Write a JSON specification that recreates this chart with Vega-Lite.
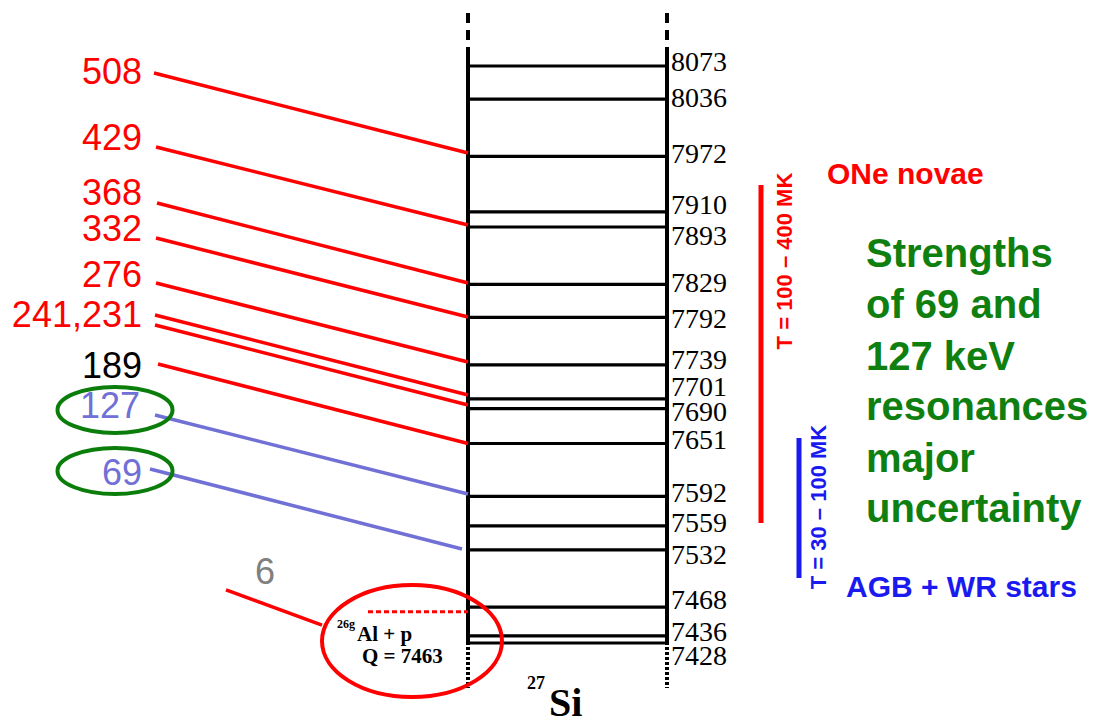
{
  "$schema": "https://vega.github.io/schema/vega-lite/v6.json",
  "width": 1104,
  "height": 717,
  "autosize": {"type": "none"},
  "padding": 0,
  "background": "white",
  "config": {"view": {"stroke": null}},
  "datasets": {
    "levels": [
      {"E": 8073, "labelE": 8076.4}, {"E": 8036, "labelE": 8036.1}, {"E": 7972, "labelE": 7973.5},
      {"E": 7910, "labelE": 7916.5}, {"E": 7893, "labelE": 7881.9}, {"E": 7829, "labelE": 7829.3},
      {"E": 7792, "labelE": 7789.1}, {"E": 7739, "labelE": 7743.2}, {"E": 7701, "labelE": 7713.1},
      {"E": 7690, "labelE": 7685.1}, {"E": 7651, "labelE": 7653.8}, {"E": 7592, "labelE": 7594.6},
      {"E": 7559, "labelE": 7561.0}, {"E": 7532, "labelE": 7525.3}, {"E": 7468, "labelE": 7474.9},
      {"E": 7436, "labelE": 7439.2}, {"E": 7428, "labelE": 7412.4}
    ],
    "frame": [
      {"x": 468, "top": 8094.2, "bottom": 7425.8, "seg": "solid"},
      {"x": 667, "top": 8094.2, "bottom": 7425.8, "seg": "solid"},
      {"x": 468, "top": 8132.3, "bottom": 8098.7, "seg": "upper"},
      {"x": 667, "top": 8132.3, "bottom": 8098.7, "seg": "upper"},
      {"x": 468, "top": 7423.5, "bottom": 7377.7, "seg": "lower"},
      {"x": 667, "top": 7423.5, "bottom": 7377.7, "seg": "lower"}
    ],
    "transitions": [
      {"Er": "508", "x0": 154, "e0": 8065.2, "x1": 468, "e1": 7975.7, "band": "novae"},
      {"Er": "429", "x0": 156, "e0": 7982.5, "x1": 468, "e1": 7895.3, "band": "novae"},
      {"Er": "368", "x0": 157, "e0": 7919.9, "x1": 468, "e1": 7830.4, "band": "novae"},
      {"Er": "332", "x0": 156, "e0": 7880.7, "x1": 468, "e1": 7792.4, "band": "novae"},
      {"Er": "276", "x0": 156, "e0": 7830.4, "x1": 468, "e1": 7742.1, "band": "novae"},
      {"Er": "241", "x0": 155, "e0": 7794.7, "x1": 468, "e1": 7705.2, "band": "novae"},
      {"Er": "231", "x0": 155, "e0": 7783.5, "x1": 468, "e1": 7694.0, "band": "novae"},
      {"Er": "189", "x0": 158, "e0": 7739.9, "x1": 468, "e1": 7651.0, "band": "novae"},
      {"Er": "127", "x0": 155, "e0": 7682.9, "x1": 468, "e1": 7594.6, "band": "agb"},
      {"Er": "69", "x0": 150, "e0": 7622.5, "x1": 462, "e1": 7533.1, "band": "agb"},
      {"Er": "6", "x0": 226, "e0": 7487.3, "x1": 322, "e1": 7448.1, "band": "novae"}
    ],
    "resLabels": [
      {"t": "508", "x": 142, "e": 8065.2, "band": "novae"},
      {"t": "429", "x": 142, "e": 7991.4, "band": "novae"},
      {"t": "368", "x": 142, "e": 7929.9, "band": "novae"},
      {"t": "332", "x": 142, "e": 7889.7, "band": "novae"},
      {"t": "276", "x": 142, "e": 7838.3, "band": "novae"},
      {"t": "241,231", "x": 142, "e": 7793.5, "band": "novae"},
      {"t": "189", "x": 142, "e": 7736.5, "band": "edge"},
      {"t": "127", "x": 140, "e": 7691.8, "band": "agb"},
      {"t": "69", "x": 142, "e": 7616.9, "band": "agb"},
      {"t": "6", "x": 275, "e": 7506.2, "band": "sub"}
    ],
    "circled": [{"x": 115, "e": 7688.5}, {"x": 115, "e": 7620.3}],
    "threshold": [{"x": 412, "e": 7430.2, "Q": 7463}],
    "ranges": [
      {"x": 761, "e0": 7940.0, "e1": 7562.1, "band": "novae", "t": "T = 100 – 400 MK", "tx": 785, "te": 7855.0},
      {"x": 799, "e0": 7657.2, "e1": 7500.7, "band": "stars", "t": "T = 30 – 100 MK", "tx": 819, "te": 7580.0}
    ],
    "sites": [
      {"t": "ONe novae", "x": 827, "e": 7951.2, "band": "novae"},
      {"t": "AGB + WR stars", "x": 846, "e": 7489.5, "band": "stars"}
    ],
    "note": [
      {"t": "Strengths", "e": 7848.3},
      {"t": "of 69 and", "e": 7791.3},
      {"t": "127 keV", "e": 7733.2},
      {"t": "resonances", "e": 7677.3},
      {"t": "major", "e": 7619.2},
      {"t": "uncertainty", "e": 7563.3}
    ]
  },
  "layer": [
    {
      "data": {"name": "frame"},
      "mark": {"type": "rule", "color": "black", "strokeWidth": 4},
      "encoding": {
        "x": {"field": "x", "type": "quantitative", "scale": {"domain": [0, 1104], "nice": false, "zero": false}, "axis": null},
        "y": {"field": "top", "type": "quantitative", "scale": {"domain": [7345.28, 8146.78], "nice": false, "zero": false}, "axis": null},
        "y2": {"field": "bottom"},
        "strokeDash": {"field": "seg", "type": "nominal", "scale": {"domain": ["solid", "upper", "lower"], "range": [[1, 0], [10, 7], [3, 2]]}, "legend": null}
      }
    },
    {
      "data": {"name": "levels"},
      "mark": {"type": "rule", "color": "black", "strokeWidth": 3.2},
      "encoding": {
        "x": {"datum": 468, "type": "quantitative"},
        "x2": {"datum": 667},
        "y": {"field": "E", "type": "quantitative"}
      }
    },
    {
      "data": {"name": "levels"},
      "mark": {"type": "text", "font": "Liberation Serif", "fontSize": 28, "align": "left", "baseline": "middle", "color": "black"},
      "encoding": {
        "x": {"datum": 671, "type": "quantitative"},
        "y": {"field": "labelE", "type": "quantitative"},
        "text": {"field": "E", "type": "nominal"}
      }
    },
    {
      "data": {"name": "transitions"},
      "mark": {"type": "rule", "strokeWidth": 3.5},
      "encoding": {
        "x": {"field": "x0", "type": "quantitative"},
        "x2": {"field": "x1"},
        "y": {"field": "e0", "type": "quantitative"},
        "y2": {"field": "e1"},
        "color": {"field": "band", "type": "nominal", "scale": {"domain": ["novae", "edge", "agb", "sub", "stars"], "range": ["#ff0000", "#000000", "#7070d6", "#808080", "#1a1af0"]}, "legend": null}
      }
    },
    {
      "data": {"name": "resLabels"},
      "mark": {"type": "text", "font": "Liberation Sans", "fontSize": 36, "align": "right", "baseline": "middle"},
      "encoding": {
        "x": {"field": "x", "type": "quantitative"},
        "y": {"field": "e", "type": "quantitative"},
        "text": {"field": "t", "type": "nominal"},
        "color": {"field": "band", "type": "nominal", "legend": null}
      }
    },
    {
      "data": {"name": "circled"},
      "mark": {"type": "point", "filled": false, "stroke": "#0b7d0b", "strokeWidth": 4, "opacity": 1, "size": 13225,
        "shape": "M1,0C1,0.2209,0.5523,0.4,0,0.4C-0.5523,0.4,-1,0.2209,-1,0C-1,-0.2209,-0.5523,-0.4,0,-0.4C0.5523,-0.4,1,-0.2209,1,0Z"},
      "encoding": {
        "x": {"field": "x", "type": "quantitative"},
        "y": {"field": "e", "type": "quantitative"}
      }
    },
    {
      "data": {"name": "threshold"},
      "mark": {"type": "rule", "color": "#ff0000", "strokeWidth": 3, "strokeDash": [5, 3]},
      "encoding": {
        "x": {"datum": 368, "type": "quantitative"},
        "x2": {"datum": 468},
        "y": {"field": "Q", "type": "quantitative"}
      }
    },
    {
      "data": {"name": "threshold"},
      "mark": {"type": "point", "filled": false, "stroke": "#ff0000", "strokeWidth": 4, "opacity": 1, "size": 32400,
        "shape": "M1,0C1,0.3435,0.5523,0.622,0,0.622C-0.5523,0.622,-1,0.3435,-1,0C-1,-0.3435,-0.5523,-0.622,0,-0.622C0.5523,-0.622,1,-0.3435,1,0Z"},
      "encoding": {
        "x": {"field": "x", "type": "quantitative"},
        "y": {"field": "e", "type": "quantitative"}
      }
    },
    {
      "data": {"values": [{"t": "26g", "x": 337, "e": 7449.2}]},
      "mark": {"type": "text", "font": "Liberation Serif", "fontWeight": "bold", "fontSize": 12, "align": "left", "baseline": "middle", "color": "black"},
      "encoding": {
        "x": {"field": "x", "type": "quantitative"},
        "y": {"field": "e", "type": "quantitative"},
        "text": {"field": "t", "type": "nominal"}
      }
    },
    {
      "data": {"values": [{"t": "Al + p", "x": 357, "e": 7437.0}, {"t": "Q = 7463", "x": 362, "e": 7412.9}]},
      "mark": {"type": "text", "font": "Liberation Serif", "fontWeight": "bold", "fontSize": 21, "align": "left", "baseline": "middle", "color": "black"},
      "encoding": {
        "x": {"field": "x", "type": "quantitative"},
        "y": {"field": "e", "type": "quantitative"},
        "text": {"field": "t", "type": "nominal"}
      }
    },
    {
      "data": {"values": [{"t": "27", "x": 527, "e": 7382.2}]},
      "mark": {"type": "text", "font": "Liberation Serif", "fontWeight": "bold", "fontSize": 18, "align": "left", "baseline": "middle", "color": "black"},
      "encoding": {
        "x": {"field": "x", "type": "quantitative"},
        "y": {"field": "e", "type": "quantitative"},
        "text": {"field": "t", "type": "nominal"}
      }
    },
    {
      "data": {"values": [{"t": "Si", "x": 549, "e": 7346.4}]},
      "mark": {"type": "text", "font": "Liberation Serif", "fontWeight": "bold", "fontSize": 40, "align": "left", "baseline": "alphabetic", "color": "black"},
      "encoding": {
        "x": {"field": "x", "type": "quantitative"},
        "y": {"field": "e", "type": "quantitative"},
        "text": {"field": "t", "type": "nominal"}
      }
    },
    {
      "data": {"name": "ranges"},
      "mark": {"type": "rule", "strokeWidth": 5},
      "encoding": {
        "x": {"field": "x", "type": "quantitative"},
        "y": {"field": "e0", "type": "quantitative"},
        "y2": {"field": "e1"},
        "color": {"field": "band", "type": "nominal", "legend": null}
      }
    },
    {
      "data": {"name": "ranges"},
      "mark": {"type": "text", "font": "Liberation Sans", "fontWeight": "bold", "fontSize": 22, "angle": 270, "align": "center", "baseline": "middle"},
      "encoding": {
        "x": {"field": "tx", "type": "quantitative"},
        "y": {"field": "te", "type": "quantitative"},
        "text": {"field": "t", "type": "nominal"},
        "color": {"field": "band", "type": "nominal", "legend": null}
      }
    },
    {
      "data": {"name": "sites"},
      "mark": {"type": "text", "font": "Liberation Sans", "fontWeight": "bold", "fontSize": 30, "align": "left", "baseline": "middle"},
      "encoding": {
        "x": {"field": "x", "type": "quantitative"},
        "y": {"field": "e", "type": "quantitative"},
        "text": {"field": "t", "type": "nominal"},
        "color": {"field": "band", "type": "nominal", "legend": null}
      }
    },
    {
      "data": {"name": "note"},
      "mark": {"type": "text", "font": "Liberation Sans", "fontWeight": "bold", "fontSize": 40, "align": "left", "baseline": "alphabetic", "color": "#0f800f"},
      "encoding": {
        "x": {"datum": 866, "type": "quantitative"},
        "y": {"field": "e", "type": "quantitative"},
        "text": {"field": "t", "type": "nominal"}
      }
    }
  ]
}
